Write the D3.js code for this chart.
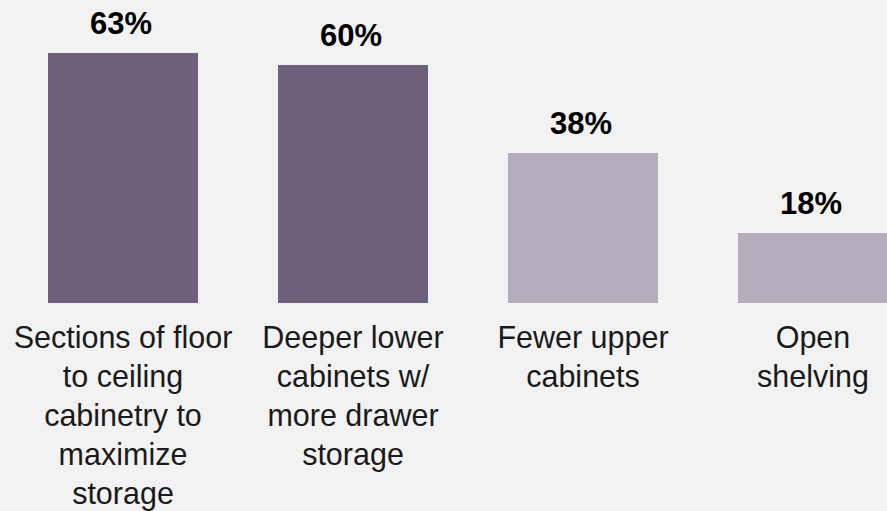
<!DOCTYPE html>
<html>
<head>
<meta charset="utf-8">
<script src="https://cdn.jsdelivr.net/npm/d3@7"></script>
<style>
  html, body { margin: 0; padding: 0; background: #f2f2f2; }
  svg { display: block; }
</style>
</head>
<body>
<svg id="chart" width="887" height="511"></svg>
<script>
// Kitchen storage preferences (share of respondents)
const categories = [
  ["Sections of floor", "to ceiling", "cabinetry to", "maximize", "storage"],
  ["Deeper lower", "cabinets w/", "more drawer", "storage"],
  ["Fewer upper", "cabinets"],
  ["Open", "shelving"]
];
const values = [63, 60, 38, 18];
const valueLabels = ["63%", "60%", "38%", "18%"];
const barColors = ["#6e5f7b", "#6e5f7b", "#b5adbc", "#b5adbc"];

const svg = d3.select("#chart");
const baseline = 303;

const x = d3.scaleBand()
  .domain(d3.range(values.length))
  .range([8, 928])
  .paddingInner(80 / 230)
  .paddingOuter(40 / 230);

const y = d3.scaleLinear()
  .domain([0.5, 65])
  .range([baseline, 45]);

// bars
svg.selectAll("rect.bar")
  .data(values)
  .join("rect")
  .attr("class", "bar")
  .attr("x", (d, i) => x(i))
  .attr("width", x.bandwidth())
  .attr("y", d => y(d))
  .attr("height", d => baseline - y(d))
  .attr("fill", (d, i) => barColors[i]);

// value labels above bars
svg.selectAll("text.value")
  .data(values)
  .join("text")
  .attr("class", "value")
  .attr("x", (d, i) => x(i) + x.bandwidth() / 2 - 2)
  .attr("y", d => y(d) - 19)
  .attr("text-anchor", "middle")
  .attr("font-family", "Liberation Sans, Arial, sans-serif")
  .attr("font-weight", "bold")
  .attr("font-size", 31)
  .attr("fill", "#000")
  .text((d, i) => valueLabels[i]);

// category labels below bars
const lineHeight = 39;
svg.selectAll("text.cat")
  .data(categories)
  .join("text")
  .attr("class", "cat")
  .attr("text-anchor", "middle")
  .attr("font-family", "Liberation Sans, Arial, sans-serif")
  .attr("font-size", 30.5)
  .attr("fill", "#1a1a1a")
  .each(function(lines, i) {
    const cx = x(i) + x.bandwidth() / 2;
    d3.select(this).selectAll("tspan")
      .data(lines)
      .join("tspan")
      .attr("x", cx)
      .attr("y", (l, j) => baseline + 45 + j * lineHeight)
      .text(l => l);
  });
</script>
</body>
</html>
